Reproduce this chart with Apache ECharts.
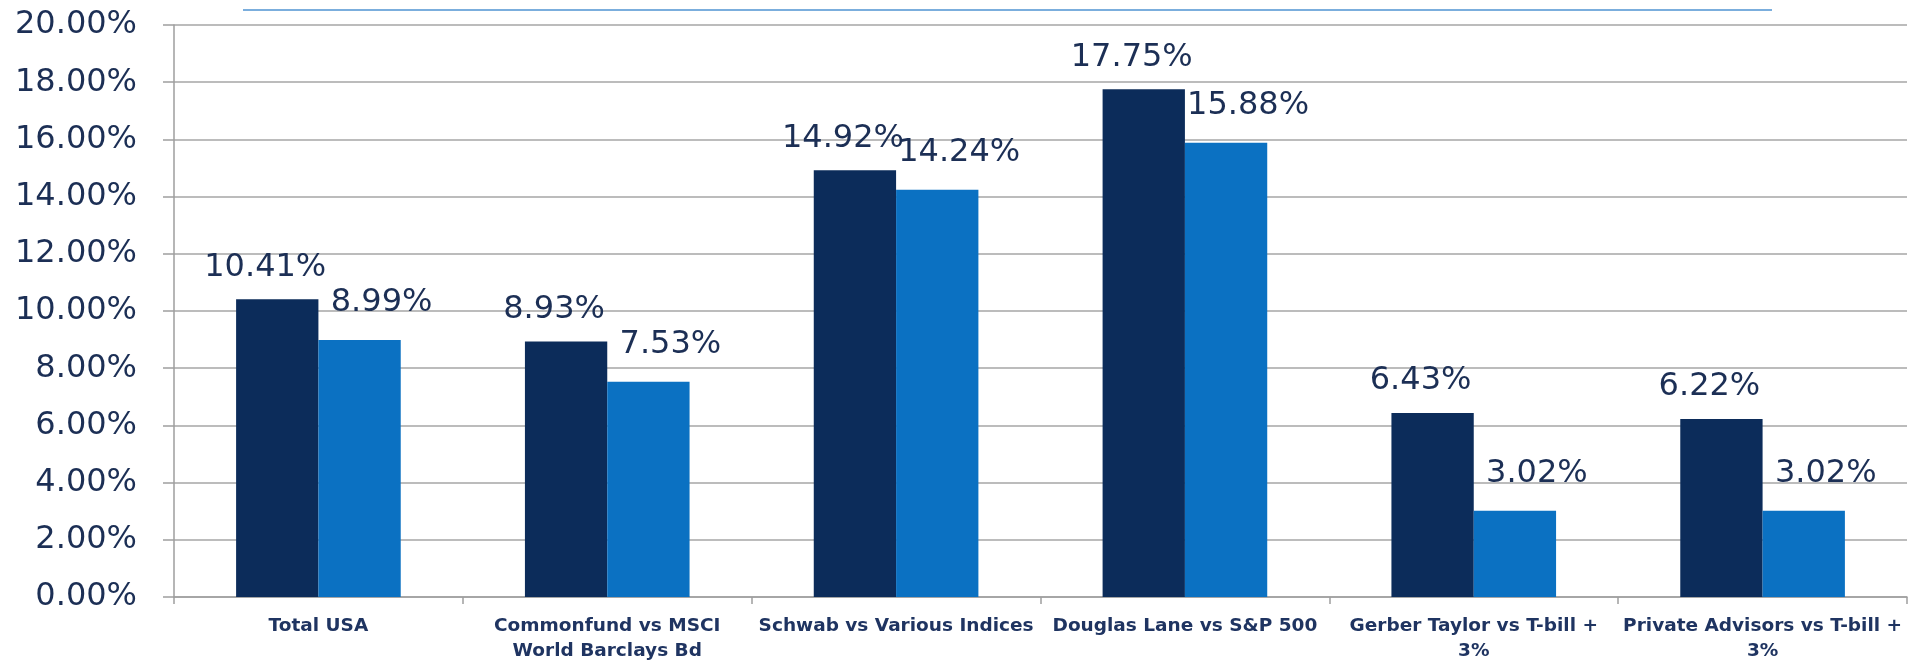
<!DOCTYPE html>
<html>
<head>
<meta charset="utf-8">
<script src="https://cdn.jsdelivr.net/npm/echarts@6/dist/echarts.min.js"></script>
<style>
html,body{margin:0;padding:0;background:#fff;}
#chart{width:1919px;height:667px;}
</style>
</head>
<body>
<div id="chart"></div>
<script>
const categories = [
  'Total USA',
  'Commonfund vs MSCI\nWorld Barclays Bd',
  'Schwab vs Various Indices',
  'Douglas Lane vs S&P 500',
  'Gerber Taylor vs T-bill +\n3%',
  'Private Advisors vs T-bill +\n3%'
];
const fundReturns = [10.41, 8.93, 14.92, 17.75, 6.43, 6.22];
const benchmarkReturns = [8.99, 7.53, 14.24, 15.88, 3.02, 3.02];
const yTicks = { min: 0, max: 20, interval: 2 };

const chart = echarts.init(document.getElementById('chart'), null, { renderer: 'canvas' });
const labelFont = 'DejaVu Sans';
const textColor = '#1c2f55';
const option = {
  animation: false,
  backgroundColor: '#ffffff',
  grid: { left: 174, right: 12, top: 25, bottom: 70, containLabel: false },
  graphic: [{
    type: 'line',
    shape: { x1: 243, y1: 10, x2: 1772, y2: 10 },
    style: { stroke: '#4f93d2', lineWidth: 1.5 }
  }],
  xAxis: {
    type: 'category',
    data: categories,
    boundaryGap: true,
    axisLine: { show: true, lineStyle: { color: '#9e9e9e', width: 1.5 } },
    axisTick: { show: true, length: 7, lineStyle: { color: '#9e9e9e', width: 1.5 } },
    axisLabel: {
      interval: 0,
      margin: 17,
      color: '#1f3461',
      fontFamily: labelFont,
      fontWeight: 'bold',
      fontSize: 18.5,
      lineHeight: 25
    }
  },
  yAxis: {
    type: 'value',
    min: yTicks.min,
    max: yTicks.max,
    interval: yTicks.interval,
    axisLine: { show: true, lineStyle: { color: '#9e9e9e', width: 1.5 } },
    axisTick: { show: true, length: 11, lineStyle: { color: '#9e9e9e', width: 1.5 } },
    splitLine: { show: true, lineStyle: { color: '#a6a6a6', width: 1.5 } },
    axisLabel: {
      margin: 37,
      color: textColor,
      fontFamily: labelFont,
      fontSize: 32,
      formatter: v => v.toFixed(2) + '%'
    }
  },
  series: [
    {
      name: 'Fund',
      type: 'bar',
      data: fundReturns,
      barGap: '0%',
      barCategoryGap: '43%',
      itemStyle: { color: '#0c2c5a' },
      label: {
        show: true,
        position: 'top',
        distance: 4,
        offset: [-12, -12],
        color: textColor,
        fontFamily: labelFont,
        fontSize: 32,
        formatter: p => p.value.toFixed(2) + '%'
      }
    },
    {
      name: 'Benchmark',
      type: 'bar',
      data: benchmarkReturns,
      itemStyle: { color: '#0b71c2' },
      label: {
        show: true,
        position: 'top',
        distance: 4,
        offset: [22, -17],
        color: textColor,
        fontFamily: labelFont,
        fontSize: 32,
        formatter: p => p.value.toFixed(2) + '%'
      }
    }
  ]
};
chart.setOption(option);
</script>
</body>
</html>
